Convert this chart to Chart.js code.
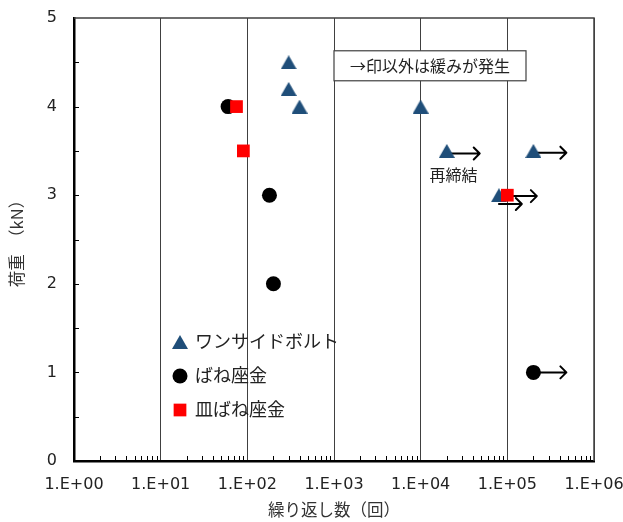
<!DOCTYPE html>
<html lang="ja">
<head>
<meta charset="UTF-8">
<title>繰り返し数と荷重</title>
<script src="https://cdn.jsdelivr.net/npm/chart.js"></script>
<style>
  html, body { margin: 0; padding: 0; background: #fff; }
  #wrap { width: 623px; height: 522px; }
</style>
</head>
<body>
<div id="wrap"><canvas id="chart" width="623" height="522"></canvas></div>
<script>
// 繰り返し数（回）と荷重（kN）
const oneSideX = [300, 300, 400, 10000, 20000, 200000, 80000];
const oneSideY = [4.5, 4.2, 4.0, 4.0, 3.5, 3.5, 3.0];
const springX = [60, 180, 200, 200000];
const springY = [4.0, 3.0, 2.0, 1.0];
const discX = [75, 90, 100000];
const discY = [4.0, 3.5, 3.0];

const seriesNames = ['ワンサイドボルト', 'ばね座金', '皿ばね座金'];
const xTickValues = [1, 10, 100, 1000, 10000, 100000, 1000000];

// →印 (緩みなし): 始点x, 終点x, 荷重
const arrowFromX = [20000, 200000, 200000, 80000, 100000];
const arrowToX = [48000, 480000, 480000, 147000, 219000];
const arrowY = [3.47, 3.48, 1.0, 2.9, 2.99];

const noteText = '→印以外は緩みが発生';
const noteX = 1000, noteY = 4.63;
const refastenText = '再締結';
const refastenX = 24000, refastenY = 3.23;

const blue = '#1F4E79';
const jpFont = "'Noto Sans CJK JP', 'Noto Sans', sans-serif";
const numFont = "'DejaVu Sans', Verdana, sans-serif";

function toPoints(xs, ys) {
    return xs.map((x, i) => ({ x: x, y: ys[i] }));
}

// Excel風の三角マーカー（外接矩形の中心に配置）
const triangleImg = document.createElement('canvas');
triangleImg.width = 16;
triangleImg.height = 14;
(function () {
    const c = triangleImg.getContext('2d');
    c.fillStyle = blue;
    c.beginPath();
    c.moveTo(8, 0);
    c.lineTo(16, 14);
    c.lineTo(0, 14);
    c.closePath();
    c.fill();
})();

// 枠線・補助目盛・矢印
const decorations = {
    id: 'decorations',
    beforeDatasetsDraw(chart) {
        const { ctx, chartArea: a, scales: { x, y } } = chart;
        ctx.save();
        ctx.strokeStyle = '#404040';
        ctx.lineWidth = 1.5;
        ctx.beginPath();
        ctx.moveTo(a.left, a.top);
        ctx.lineTo(a.right, a.top);
        ctx.lineTo(a.right, a.bottom);
        ctx.stroke();

        ctx.strokeStyle = '#000';
        ctx.lineWidth = 1;
        ctx.beginPath();
        for (let e = 0; e < 6; e++) {
            for (let m = 2; m < 10; m++) {
                const px = Math.round(x.getPixelForValue(m * Math.pow(10, e))) + 0.5;
                ctx.moveTo(px, a.bottom);
                ctx.lineTo(px, a.bottom - 5);
            }
        }
        for (let v = 0.5; v < 5; v += 0.5) {
            const py = Math.round(y.getPixelForValue(v)) + 0.5;
            ctx.moveTo(a.left, py);
            ctx.lineTo(a.left + 5, py);
        }
        ctx.stroke();

        ctx.lineWidth = 2;
        ctx.lineCap = 'round';
        ctx.lineJoin = 'round';
        arrowFromX.forEach((fx, i) => {
            const x0 = x.getPixelForValue(fx);
            const x1 = x.getPixelForValue(arrowToX[i]);
            const py = y.getPixelForValue(arrowY[i]);
            ctx.beginPath();
            ctx.moveTo(x0, py);
            ctx.lineTo(x1, py);
            ctx.moveTo(x1 - 6, py - 6);
            ctx.lineTo(x1, py);
            ctx.lineTo(x1 - 6, py + 6);
            ctx.stroke();
        });
        ctx.restore();
    },
    afterDatasetsDraw(chart) {
        const { ctx, chartArea: a, scales: { x, y } } = chart;
        ctx.save();
        // 注記ボックス
        ctx.font = '16px ' + jpFont;
        const bx = x.getPixelForValue(noteX);
        const by = y.getPixelForValue(noteY);
        const bw = ctx.measureText(noteText).width + 32;
        ctx.fillStyle = '#fff';
        ctx.fillRect(bx, by, bw, 30);
        ctx.strokeStyle = '#404040';
        ctx.lineWidth = 1.2;
        ctx.strokeRect(bx, by, bw, 30);
        ctx.fillStyle = '#222';
        ctx.textBaseline = 'middle';
        ctx.textAlign = 'left';
        ctx.fillText(noteText, bx + 16, by + 15);

        ctx.textAlign = 'center';
        ctx.fillText(refastenText, x.getPixelForValue(refastenX), y.getPixelForValue(refastenY));

        // 凡例
        const styles = [
            { pointStyle: triangleImg, radius: 8, color: blue },
            { pointStyle: 'circle', radius: 7.5, color: '#000' },
            { pointStyle: 'rect', radius: 9, color: '#f00' }
        ];
        const lx = a.left + 106;
        const ly = [a.top + 324, a.top + 358, a.top + 392];
        ctx.font = '18px ' + jpFont;
        ctx.textAlign = 'left';
        seriesNames.forEach((name, i) => {
            const s = styles[i];
            ctx.fillStyle = s.color;
            ctx.strokeStyle = s.color;
            Chart.helpers.drawPoint(ctx, { pointStyle: s.pointStyle, radius: s.radius, rotation: 0, borderWidth: 0 }, lx, ly[i]);
            ctx.fillStyle = '#222';
            ctx.fillText(name, lx + 15, ly[i] - 1);
        });
        ctx.restore();
    }
};

new Chart(document.getElementById('chart'), {
    type: 'scatter',
    data: {
        datasets: [
            {
                label: seriesNames[0],
                data: toPoints(oneSideX, oneSideY),
                order: 1,
                pointStyle: triangleImg,
                pointRadius: 8,
                backgroundColor: blue,
                borderColor: blue,
                borderWidth: 0
            },
            {
                label: seriesNames[1],
                data: toPoints(springX, springY),
                order: 2,
                pointStyle: 'circle',
                pointRadius: 7.5,
                backgroundColor: '#000',
                borderColor: '#000',
                borderWidth: 0
            },
            {
                label: seriesNames[2],
                data: toPoints(discX, discY),
                order: 0,
                pointStyle: 'rect',
                pointRadius: 9,
                backgroundColor: '#f00',
                borderColor: '#f00',
                borderWidth: 0
            }
        ]
    },
    options: {
        responsive: false,
        animation: false,
        devicePixelRatio: 1,
        layout: { padding: { top: 18, right: 29, left: 0, bottom: 0 } },
        plugins: {
            legend: { display: false },
            tooltip: { enabled: false }
        },
        scales: {
            x: {
                type: 'logarithmic',
                min: 1,
                max: 1000000,
                afterBuildTicks: (scale) => {
                    scale.ticks = xTickValues.map(v => ({ value: v }));
                },
                afterFit: (scale) => {
                    scale.height = 61;
                    scale.paddingLeft = 0;
                    scale.paddingRight = 0;
                },
                ticks: {
                    autoSkip: false,
                    maxRotation: 0,
                    padding: 14,
                    color: '#222',
                    font: { family: numFont, size: 16 },
                    callback: (v) => '1.E+' + String(Math.round(Math.log10(v))).padStart(2, '0')
                },
                grid: { color: '#404040', lineWidth: 1, drawTicks: false },
                border: { display: true, color: '#000', width: 2.5 },
                title: {
                    display: true,
                    text: '繰り返し数（回）',
                    color: '#333',
                    font: { family: jpFont, size: 16.5 },
                    padding: { top: 0, bottom: 2 }
                }
            },
            y: {
                min: 0,
                max: 5,
                afterFit: (scale) => {
                    scale.width = 74;
                    scale.paddingTop = 0;
                    scale.paddingBottom = 0;
                },
                ticks: {
                    stepSize: 1,
                    padding: 17,
                    color: '#222',
                    font: { family: numFont, size: 16 }
                },
                grid: { display: false, drawTicks: false },
                border: { display: true, color: '#000', width: 2.5 },
                title: {
                    display: true,
                    text: '荷重　（kN）',
                    color: '#333',
                    font: { family: jpFont, size: 16.5 },
                    padding: { top: 7, bottom: 0 }
                }
            }
        }
    },
    plugins: [decorations]
});
</script>
</body>
</html>
